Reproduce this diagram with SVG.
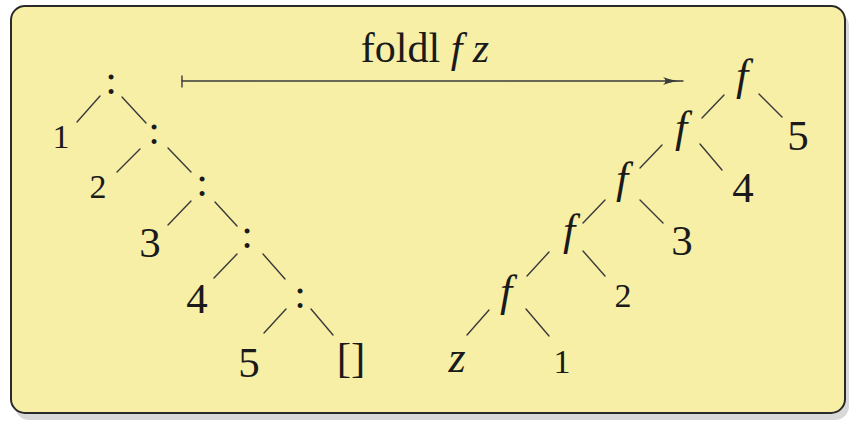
<svg xmlns="http://www.w3.org/2000/svg" width="849" height="422" viewBox="0 0 849 422">
<style>
.t{font-family:'Liberation Serif','DejaVu Serif',serif;fill:#1a1a1a;text-anchor:middle}
.big{font-size:43px}
.sm{font-size:34px}
.it{font-style:italic;font-size:44px}
.col{font-size:42px}
.e{stroke:#3a3a3a;stroke-width:1.4;fill:none;stroke-linecap:round}
</style>
<defs>
<marker id="ah" markerWidth="20" markerHeight="10" refX="20" refY="5" orient="auto" markerUnits="userSpaceOnUse">
<path d="M0,1 Q10,5 20,5 Q10,5 0,9 Q5,5 0,1 Z" fill="#3a3a3a"/>
</marker>
</defs>
<rect x="15" y="12" width="834" height="408" rx="14" fill="#d9d9d9"/>
<rect x="11" y="6" width="834" height="407" rx="14" fill="#f7efa6" stroke="#2a2a2a" stroke-width="2"/>

<g id="connectors">
<line class="e" x1="182" y1="81" x2="683" y2="81" marker-end="url(#ah)"/>
<line class="e" x1="182" y1="76" x2="182" y2="87"/>
<line class="e" x1="77" y1="122" x2="100" y2="96"/>
<line class="e" x1="122" y1="97" x2="146" y2="123"/>
<line class="e" x1="117" y1="172" x2="140" y2="149"/>
<line class="e" x1="168" y1="148" x2="191" y2="172"/>
<line class="e" x1="168" y1="225" x2="191" y2="201"/>
<line class="e" x1="215" y1="202" x2="237" y2="226"/>
<line class="e" x1="214" y1="278" x2="237" y2="254"/>
<line class="e" x1="263" y1="254" x2="285" y2="279"/>
<line class="e" x1="264" y1="333" x2="286" y2="309"/>
<line class="e" x1="311" y1="309" x2="333" y2="335"/>
<line class="e" x1="702" y1="118" x2="724" y2="95"/>
<line class="e" x1="759" y1="94" x2="782" y2="117"/>
<line class="e" x1="640" y1="168" x2="662" y2="145"/>
<line class="e" x1="700" y1="144" x2="722" y2="170"/>
<line class="e" x1="583" y1="223" x2="605" y2="200"/>
<line class="e" x1="640" y1="200" x2="663" y2="223"/>
<line class="e" x1="527" y1="276" x2="549" y2="252"/>
<line class="e" x1="583" y1="251" x2="605" y2="276"/>
<line class="e" x1="467" y1="335" x2="489" y2="310"/>
<line class="e" x1="526" y1="309" x2="549" y2="336"/>
</g>

<g id="label"><text class="t" x="425" y="62" font-family="Liberation Serif" style="font-size:42px">foldl <tspan font-style="italic">f</tspan> <tspan font-style="italic">z</tspan></text></g>

<g id="c1"><text class="t col" x="111" y="94">:</text></g>
<g id="c2"><text class="t col" x="154" y="144">:</text></g>
<g id="c3"><text class="t col" x="202" y="196">:</text></g>
<g id="c4"><text class="t col" x="247" y="248">:</text></g>
<g id="c5"><text class="t col" x="300" y="308">:</text></g>
<g id="l1"><text class="t sm" x="61" y="148">1</text></g>
<g id="l2"><text class="t sm" x="98" y="198">2</text></g>
<g id="l3"><text class="t big" x="150" y="257">3</text></g>
<g id="l4"><text class="t big" x="197" y="313">4</text></g>
<g id="l5"><text class="t big" x="249" y="377">5</text></g>
<g id="nil"><text class="t big" x="351" y="372">[]</text></g>

<g id="f1"><text class="t it" x="742" y="90">f</text></g>
<g id="f2"><text class="t it" x="681" y="142">f</text></g>
<g id="f3"><text class="t it" x="622" y="193">f</text></g>
<g id="f4"><text class="t it" x="569" y="245">f</text></g>
<g id="f5"><text class="t it" x="506" y="306">f</text></g>
<g id="z"><text class="t it" x="457" y="372">z</text></g>
<g id="r5"><text class="t big" x="798" y="150">5</text></g>
<g id="r4"><text class="t big" x="743" y="202">4</text></g>
<g id="r3"><text class="t big" x="682" y="255">3</text></g>
<g id="r2"><text class="t sm" x="623" y="307">2</text></g>
<g id="r1"><text class="t sm" x="562" y="373">1</text></g>
</svg>
